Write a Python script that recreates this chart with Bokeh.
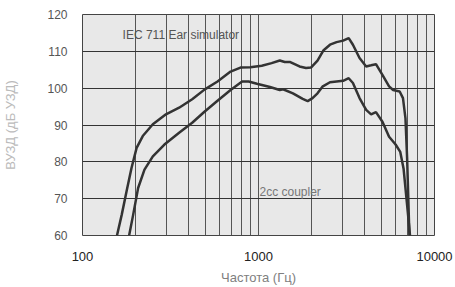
from bokeh.plotting import figure
from bokeh.models import FixedTicker, Label, Range1d
from bokeh.embed import file_html
from bokeh.resources import INLINE

# Ear simulator (IEC 711) curve
ear_freq = [157, 167, 178, 190, 203, 220, 251, 298, 354, 420, 493, 585, 694,
            790, 898, 1044, 1187, 1321, 1409, 1516, 1710, 1862, 1986, 2164,
            2344, 2548, 2777, 3026, 3255, 3440, 3750, 4090, 4363, 4650, 5060,
            5520, 5820, 6340, 6620, 6840, 6990, 7200]
ear_db = [60.0, 65.6, 72.0, 78.4, 83.8, 87.0, 90.2, 92.9, 94.7, 97.0, 99.6,
          101.8, 104.5, 105.6, 105.7, 106.1, 106.8, 107.5, 107.1, 107.1, 105.9,
          105.5, 105.6, 107.5, 110.3, 111.8, 112.5, 112.9, 113.6, 111.8, 108.2,
          105.9, 106.2, 106.5, 103.6, 100.5, 99.5, 99.1, 97.3, 91.8, 80.9, 60.0]

# 2cc coupler curve
cpl_freq = [184, 194, 207, 225, 251, 292, 354, 420, 493, 585, 694, 807, 879,
            979, 1162, 1321, 1379, 1569, 1783, 1903, 2028, 2164, 2308, 2548,
            2777, 3026, 3255, 3440, 3750, 4090, 4363, 4650, 5060, 5520, 6010,
            6390, 6670, 6960, 7260]
cpl_db = [60.0, 65.6, 72.9, 77.9, 81.5, 84.7, 87.9, 90.6, 93.6, 96.6, 99.5,
          101.8, 101.8, 101.2, 100.3, 99.5, 99.7, 98.6, 97.1, 96.5, 97.3, 98.6,
          100.4, 101.6, 101.8, 102.0, 102.7, 101.4, 97.3, 94.1, 92.9, 93.5,
          90.9, 86.8, 84.7, 82.7, 78.2, 69.1, 60.0]

x_major = [100, 1000, 10000]
x_grid = [m * d for d in (100, 1000) for m in range(1, 10)] + [10000]
y_ticks = [60, 70, 80, 90, 100, 110, 120]

p = figure(width=455, height=287, x_axis_type="log",
           x_range=Range1d(100, 10000), y_range=Range1d(60, 120),
           output_backend="svg", toolbar_location=None,
           min_border_left=76, min_border_right=21,
           min_border_top=14, min_border_bottom=52)

p.background_fill_color = "#e8e8e8"
p.border_fill_color = "white"
p.outline_line_color = "#444444"

p.xaxis.ticker = FixedTicker(ticks=x_major)
p.xaxis.major_label_overrides = {100: "100", 1000: "1000", 10000: "10000"}
p.yaxis.ticker = FixedTicker(ticks=y_ticks)
p.xgrid.ticker = FixedTicker(ticks=x_grid)
p.ygrid.ticker = FixedTicker(ticks=y_ticks)
p.xgrid.grid_line_color = "#555555"
p.ygrid.grid_line_color = "#333333"
p.xgrid.grid_line_width = 1
p.ygrid.grid_line_width = 1

for ax in (p.xaxis, p.yaxis):
    ax.axis_line_color = None
    ax.major_tick_line_color = None
    ax.minor_tick_line_color = None
    ax.major_label_text_font = "Liberation Sans"
    ax.axis_label_text_font = "Liberation Sans"
    ax.axis_label_text_font_style = "normal"

p.xaxis.major_label_text_font_size = "13px"
p.xaxis.major_label_text_color = "#222222"
p.xaxis.major_label_standoff = 10
p.yaxis.major_label_text_font_size = "12px"
p.yaxis.major_label_text_color = "#555555"
p.yaxis.major_label_standoff = 9

p.xaxis.axis_label = "Частота (Гц)"
p.xaxis.axis_label_text_font_size = "13px"
p.xaxis.axis_label_text_color = "#808080"
p.xaxis.axis_label_standoff = 6

p.yaxis.axis_label = "ВУЗД (дБ УЗД)"
p.yaxis.axis_label_text_font_size = "13px"
p.yaxis.axis_label_text_color = "#bbbbbb"
p.yaxis.axis_label_standoff = 26

p.line(ear_freq, ear_db, line_color="#333333", line_width=2.5)
p.line(cpl_freq, cpl_db, line_color="#333333", line_width=2.5)

p.add_layout(Label(x=169, y=114.3, text="IEC 711 Ear simulator",
                   text_font="Liberation Sans", text_font_size="12px",
                   text_color="#555555", text_baseline="middle"))
p.add_layout(Label(x=1013, y=71.8, text="2cc coupler",
                   text_font="Liberation Sans", text_font_size="12px",
                   text_color="#777777", text_baseline="middle"))

open("out.html", "w").write(file_html(p, INLINE))
